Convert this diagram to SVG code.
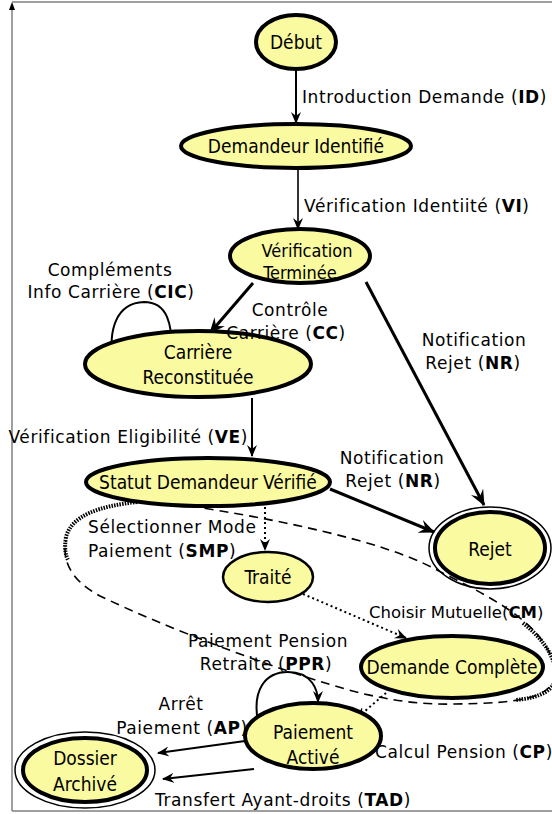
<svg xmlns="http://www.w3.org/2000/svg" width="552" height="814" viewBox="0 0 552 814">
  <style>
    .node { fill: #fafaa0; stroke: #000; stroke-width: 4; }
    .thin { stroke-width: 2.5; }
    .ring { fill: none; stroke: #000; stroke-width: 1.5; }
    .lbl { font-family: "DejaVu Sans", sans-serif; font-size: 17px; letter-spacing: 0.6px; fill: #000; }
    .nlbl { font-family: "DejaVu Sans Condensed", "DejaVu Sans", sans-serif; font-size: 19px; fill: #000; text-anchor: middle; }
    .edge { fill: none; stroke: #000; stroke-width: 2; }
    .heavy { stroke-width: 3; }
    .dot { stroke-dasharray: 2 3; }
    .dash { stroke-dasharray: 9 6; stroke-width: 1.6; }
    .hatch { fill: none; stroke: #000; stroke-width: 4; stroke-dasharray: 1.5 1.2; }
    .frame { fill: none; stroke: #808080; stroke-width: 1.5; }
  </style>
  <defs>
    <marker id="vee" viewBox="0 0 12 10" refX="11" refY="5" markerWidth="12" markerHeight="10" markerUnits="userSpaceOnUse" orient="auto">
      <path d="M0,0 L12,5 L0,10 L4,5 z" fill="#000"/>
    </marker>
    <marker id="veeBig" viewBox="0 0 14 12" refX="13" refY="6" markerWidth="16" markerHeight="14" markerUnits="userSpaceOnUse" orient="auto">
      <path d="M0,0 L14,6 L0,12 L5,6 z" fill="#000"/>
    </marker>
  </defs>

  <!-- outer frame -->
  <g id="frame">
    <path class="frame" d="M12,811 L12,4 M12,2 L552,2 M12,811 L552,811"/>
    <path d="M12,2 L9,10 L15,10 z" fill="#000"/>
  </g>

  <!-- connectors -->
  <g id="connectors">
    <!-- Début -> Demandeur Identifié -->
    <path class="edge" d="M296,70 L296,123" marker-end="url(#vee)"/>
    <!-- Demandeur Identifié -> Vérification Terminée -->
    <path class="edge" style="stroke-width:1.6" d="M298,168 L298,229" marker-end="url(#vee)"/>
    <!-- Vérification Terminée -> Carrière Reconstituée -->
    <path class="edge heavy" d="M253,283 L210,333" marker-end="url(#veeBig)"/>
    <!-- Vérification Terminée -> Rejet -->
    <path class="edge heavy" d="M366,282 L484,505" marker-end="url(#veeBig)"/>
    <!-- loop on Carrière Reconstituée -->
    <path class="edge" d="M113,362 C108,330 116,303 144,302 C168,302 172,325 172,352" marker-end="url(#vee)"/>
    <!-- Carrière Reconstituée -> Statut Demandeur Vérifié -->
    <path class="edge" d="M252,398 L252,456" marker-end="url(#vee)"/>
    <!-- Statut Demandeur Vérifié -> Rejet -->
    <path class="edge heavy" d="M330,489 L434,532" marker-end="url(#veeBig)"/>
    <!-- Statut Demandeur Vérifié -> Traité -->
    <path class="edge dot" d="M265,507 L265,550" marker-end="url(#vee)"/>
    <!-- Traité -> Demande Complète -->
    <path class="edge dot" d="M303,594 L406,638" marker-end="url(#vee)"/>
    <!-- PPR loop around Statut Demandeur Vérifié -->
    <path class="edge dash" d="M190,506 C270,518 380,540 433,568 C480,592 530,615 548,650 C575,700 520,703 455,704 C420,705 390,700 360,693 C280,672 160,625 100,596 C70,580 62,560 66,540"/>
    <path class="hatch" d="M137,502 C100,506 72,515 66,537 C64,550 66,556 68,560"/>
    <path class="hatch" d="M523,623 C545,640 556,660 556,675 C556,690 540,698 515,700"/>
    <!-- Demande Complète -> Paiement Activé -->
    <path class="edge dot" d="M386,693 L357,718" marker-end="url(#vee)"/>
    <!-- loop on Paiement Activé -->
    <path class="edge" d="M258,722 C252,690 265,672 288,672 C312,672 318,690 318,702" marker-end="url(#vee)"/>
    <!-- Paiement Activé -> Dossier Archivé -->
    <path class="edge" d="M245,741 L158,753" marker-end="url(#vee)"/>
    <path class="edge" d="M254,769 L163,779" marker-end="url(#vee)"/>
  </g>

  <!-- states -->
  <g id="debut">
    <ellipse class="node" cx="296" cy="42" rx="40" ry="27"/>
    <text class="nlbl" x="296" y="49">Début</text>
  </g>
  <g id="demandeur-identifie">
    <ellipse class="node" cx="296" cy="146" rx="115" ry="22"/>
    <text class="nlbl" x="296" y="153">Demandeur Identifié</text>
  </g>
  <g id="verification-terminee">
    <ellipse class="node" cx="300" cy="256" rx="70" ry="27"/>
    <text class="nlbl" x="307" y="257" style="font-size:18px">Vérification</text>
    <text class="nlbl" x="300" y="279" style="font-size:18px">Terminée</text>
  </g>
  <g id="carriere-reconstituee">
    <ellipse class="node" cx="198" cy="364" rx="113" ry="33"/>
    <text class="nlbl" x="198" y="359">Carrière</text>
    <text class="nlbl" x="198" y="384">Reconstituée</text>
  </g>
  <g id="statut-demandeur-verifie">
    <ellipse class="node" cx="208" cy="482" rx="122" ry="24"/>
    <text class="nlbl" x="208" y="489">Statut Demandeur Vérifié</text>
  </g>
  <g id="rejet">
    <ellipse class="ring" cx="490" cy="548" rx="61" ry="41"/>
    <ellipse class="node" cx="490" cy="548" rx="55" ry="36"/>
    <text class="nlbl" x="490" y="556">Rejet</text>
  </g>
  <g id="traite">
    <ellipse class="node thin" cx="268" cy="577" rx="45" ry="25"/>
    <text class="nlbl" x="268" y="584">Traité</text>
  </g>
  <g id="demande-complete">
    <ellipse class="node" cx="452" cy="667" rx="91" ry="31"/>
    <text class="nlbl" x="452" y="674">Demande Complète</text>
  </g>
  <g id="paiement-active">
    <ellipse class="node" cx="313" cy="736" rx="68" ry="33"/>
    <text class="nlbl" x="313" y="739">Paiement</text>
    <text class="nlbl" x="313" y="764">Activé</text>
  </g>
  <g id="dossier-archive">
    <ellipse class="ring" cx="85" cy="770" rx="70" ry="38"/>
    <ellipse class="node" cx="85" cy="770" rx="62" ry="32"/>
    <text class="nlbl" x="85" y="765">Dossier</text>
    <text class="nlbl" x="85" y="791">Archivé</text>
  </g>

  <!-- transition labels -->
  <g id="labels">
    <text class="lbl" x="302" y="103">Introduction Demande (<tspan font-weight="bold">ID</tspan>)</text>
    <text class="lbl" x="304" y="212">Vérification Identiité (<tspan font-weight="bold">VI</tspan>)</text>
    <text class="lbl" x="110" y="276" text-anchor="middle">Compléments</text>
    <text class="lbl" x="111" y="298" text-anchor="middle">Info Carrière (<tspan font-weight="bold">CIC</tspan>)</text>
    <text class="lbl" x="290" y="316" text-anchor="middle">Contrôle</text>
    <text class="lbl" x="286" y="339" text-anchor="middle">Carrière (<tspan font-weight="bold">CC</tspan>)</text>
    <text class="lbl" x="474" y="346" text-anchor="middle">Notification</text>
    <text class="lbl" x="473" y="369" text-anchor="middle">Rejet (<tspan font-weight="bold">NR</tspan>)</text>
    <text class="lbl" x="248" y="443" text-anchor="end">Vérification Eligibilité (<tspan font-weight="bold">VE</tspan>)</text>
    <text class="lbl" x="392" y="464" text-anchor="middle">Notification</text>
    <text class="lbl" x="393" y="487" text-anchor="middle">Rejet (<tspan font-weight="bold">NR</tspan>)</text>
    <text class="lbl" x="88" y="533">Sélectionner Mode</text>
    <text class="lbl" x="88" y="557">Paiement (<tspan font-weight="bold">SMP</tspan>)</text>
    <text class="lbl" x="369" y="618" style="letter-spacing:0px; font-size:16.5px">Choisir Mutuelle(<tspan font-weight="bold">CM</tspan>)</text>
    <text class="lbl" x="268" y="647" text-anchor="middle">Paiement Pension</text>
    <text class="lbl" x="266" y="670" text-anchor="middle">Retraite (<tspan font-weight="bold">PPR</tspan>)</text>
    <text class="lbl" x="181" y="710" text-anchor="middle">Arrêt</text>
    <text class="lbl" x="182" y="734" text-anchor="middle">Paiement (<tspan font-weight="bold">AP</tspan>)</text>
    <text class="lbl" x="375" y="758">Calcul Pension (<tspan font-weight="bold">CP</tspan>)</text>
    <text class="lbl" x="155" y="806">Transfert Ayant-droits (<tspan font-weight="bold">TAD</tspan>)</text>
  </g>
</svg>
